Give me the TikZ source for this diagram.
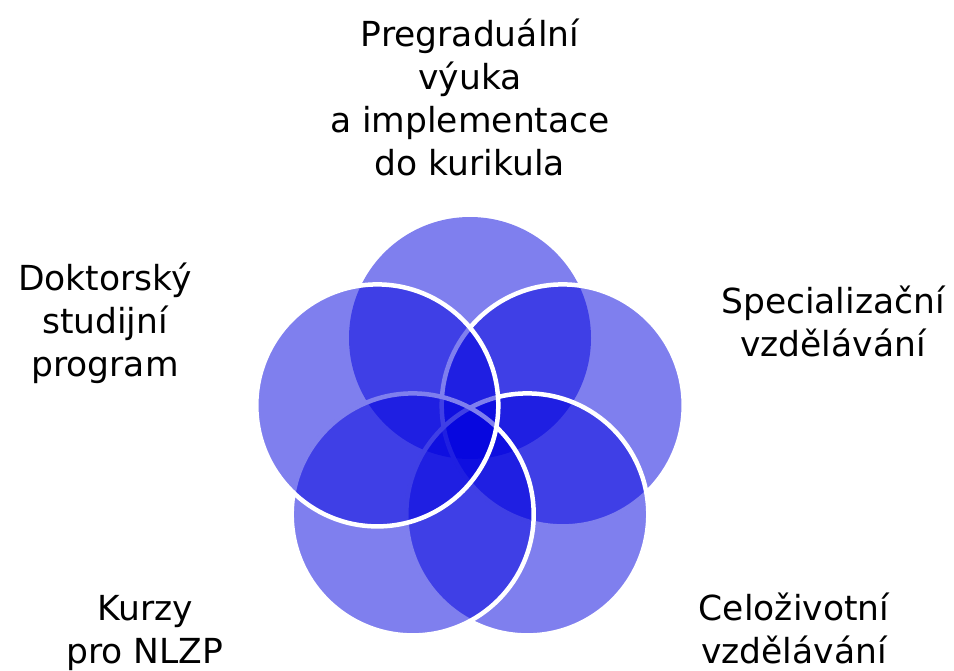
\documentclass[tikz,border=0pt]{standalone}
\usepackage{fontspec}
\setmainfont{DejaVu Sans}
\definecolor{petalblue}{RGB}{0,0,222}
\begin{document}
\begin{tikzpicture}[x=1pt,y=-1pt,
  petal/.style={circle,minimum size=242pt,inner sep=0pt,fill=petalblue,fill opacity=0.5,draw=white,draw opacity=1,line width=4.5pt},
  plainpetal/.style={petal,draw=none},
  lbl/.style={align=center,anchor=base,inner sep=0pt,font=\fontsize{34.5}{43}\selectfont}]
\useasboundingbox (0,0) rectangle (954,670);
\node[plainpetal] (t)  at (470,338) {};
\node[petal]      (r)  at (562.7,405.4) {};
\node[petal]      (br) at (527.3,514.4) {};
\node[petal]      (bl) at (412.7,514.4) {};
\node[petal]      (l)  at (377.3,405.4) {};
\node[lbl] (lt)  at (470,175) {Pregraduální\\výuka\\a implementace\\do kurikula};
\node[lbl] (ll)  at (105,376) {Doktorský\\studijní\\program};
\node[lbl] (lr)  at (833,356) {Specializační\\vzdělávání};
\node[lbl] (lbl) at (145,663) {Kurzy\\pro NLZP};
\node[lbl] (lbr) at (794,663) {Celoživotní\\vzdělávání};
\end{tikzpicture}
\end{document}
